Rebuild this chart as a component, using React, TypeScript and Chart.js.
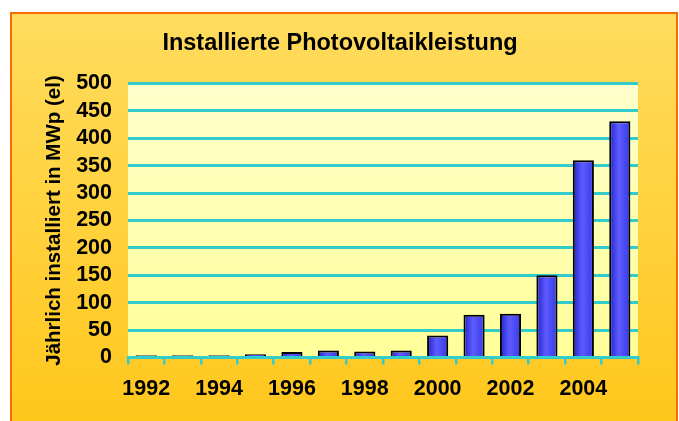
import React, { useEffect, useRef } from 'react';
import { Chart, registerables } from 'chart.js';

Chart.register(...registerables);

const years = ['1992', '1993', '1994', '1995', '1996', '1997', '1998', '1999', '2000', '2001', '2002', '2003', '2004', '2005'];
const installedMWp = [4, 4, 4, 6, 10, 13, 11, 13, 40, 78, 80, 150, 360, 431];
const shownYearLabels = ['1992', '1994', '1996', '1998', '2000', '2002', '2004'];
const yMin = 0;
const yMax = 500;
const yStep = 50;

const titleText = 'Installierte Photovoltaikleistung';
const yAxisTitle = 'Jährlich installiert in MWp (el)';

const FONT = 'Arial, "Liberation Sans", sans-serif';
const TEAL = '#33CCCC';
const BAR_PCT = 0.58;

const framePlugin = {
  id: 'frameBg',
  beforeDraw(chart: any) {
    const { ctx, width, height, chartArea } = chart;
    ctx.save();
    ctx.fillStyle = '#ffffff';
    ctx.fillRect(0, 0, width, height);
    const g = ctx.createLinearGradient(0, 12, 0, height);
    g.addColorStop(0, '#FFDC5E');
    g.addColorStop(1, '#FFC71C');
    ctx.fillStyle = g;
    ctx.fillRect(11, 13, width - 12, height);
    ctx.strokeStyle = '#FF6A00';
    ctx.lineWidth = 2;
    ctx.strokeRect(11, 13, width - 13, height + 10);
    if (chartArea) {
      const pg = ctx.createLinearGradient(0, chartArea.top, 0, chartArea.bottom);
      pg.addColorStop(0, '#FFFFCC');
      pg.addColorStop(1, '#FFFF99');
      ctx.fillStyle = pg;
      ctx.fillRect(chartArea.left, chartArea.top, chartArea.right - chartArea.left, chartArea.bottom - chartArea.top);
    }
    ctx.restore();
  },
};

export default function App() {
  const canvasRef = useRef<HTMLCanvasElement | null>(null);

  useEffect(() => {
    const canvas = canvasRef.current;
    if (!canvas) return;
    const chart = new Chart(canvas, {
      type: 'bar',
      data: {
        labels: years,
        datasets: [
          {
            data: installedMWp,
            backgroundColor: (c: any) => {
              const ch = c.chart;
              const xs = ch.scales && ch.scales.x;
              if (!xs || !ch.chartArea) return '#4A4AFF';
              const cx = xs.getPixelForValue(c.dataIndex);
              const hw = ((xs.width / years.length) * BAR_PCT) / 2;
              const g = ch.ctx.createLinearGradient(cx - hw, 0, cx + hw, 0);
              g.addColorStop(0, '#2222CC');
              g.addColorStop(0.45, '#5C5CFF');
              g.addColorStop(1, '#3838E8');
              return g;
            },
            borderColor: '#000000',
            borderWidth: 2,
            borderSkipped: 'bottom',
            barPercentage: BAR_PCT,
            categoryPercentage: 1,
          },
        ],
      },
      options: {
        responsive: false,
        animation: false,
        devicePixelRatio: 1,
        layout: { padding: { left: 42, right: 41, top: 0, bottom: 0 } },
        plugins: {
          legend: { display: false },
          tooltip: { enabled: false },
          title: {
            display: true,
            text: titleText,
            color: '#000000',
            font: { family: FONT, size: 23.5, weight: 'bold' },
            padding: { top: 29, bottom: 26.3 },
          },
        },
        scales: {
          x: {
            offset: true,
            grid: {
              offset: true,
              drawOnChartArea: false,
              drawTicks: true,
              tickLength: 7,
              color: TEAL,
              lineWidth: 2.5,
            },
            border: { display: true, color: TEAL, width: 3 },
            ticks: {
              autoSkip: false,
              maxRotation: 0,
              minRotation: 0,
              padding: 11.6,
              color: '#000000',
              font: { family: FONT, size: 21.5, weight: 'bold' },
              callback: (_v: any, i: number) => (shownYearLabels.includes(years[i]) ? years[i] : ''),
            },
            afterFit: (s: any) => {
              s.height = 63.5;
            },
          },
          y: {
            min: yMin,
            max: yMax,
            grid: { color: TEAL, lineWidth: 3, drawTicks: false },
            border: { display: false },
            ticks: {
              stepSize: yStep,
              autoSkip: false,
              padding: 16,
              color: '#000000',
              font: { family: FONT, size: 21.5, weight: 'bold', lineHeight: 1 },
            },
            title: {
              display: true,
              text: yAxisTitle,
              color: '#000000',
              font: { family: FONT, size: 20.5, weight: 'bold' },
              padding: { top: 0, bottom: 0 },
            },
            afterFit: (s: any) => {
              s.width = 86;
            },
          },
        },
      },
      plugins: [framePlugin],
    } as any);
    return () => chart.destroy();
  }, []);

  return (
    <div style={{ position: 'fixed', left: 0, top: 0, width: 679, height: 421 }}>
      <canvas ref={canvasRef} width={679} height={421} style={{ display: 'block' }} />
    </div>
  );
}
